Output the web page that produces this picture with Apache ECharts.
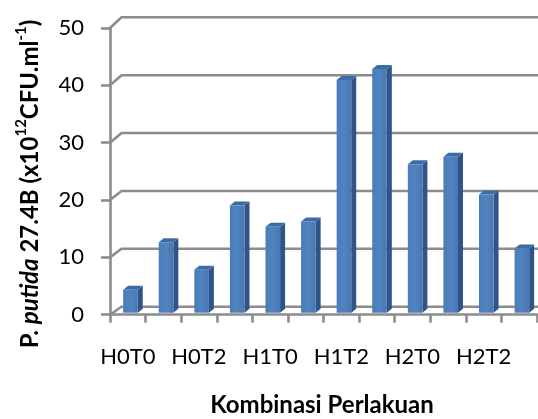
<!DOCTYPE html>
<html>
<head>
<meta charset="utf-8">
<script src="https://cdn.jsdelivr.net/npm/echarts@6/dist/echarts.min.js"></script>
<style>html,body{margin:0;padding:0;background:#fff}#c{width:538px;height:419px}</style>
</head>
<body>
<div id="c"></div>
<script>
const categories = ['H0T0','H0T1','H0T2','H0T3','H1T0','H1T1','H1T2','H1T3','H2T0','H2T1','H2T2','H2T3'];
const values = [4.0, 12.3, 7.5, 18.7, 15.0, 15.9, 40.6, 42.5, 25.9, 27.2, 20.6, 11.2];
const yTicks = [0, 10, 20, 30, 40, 50];

const FONT = 'Lato, "Open Sans", sans-serif';
const GRID_COLOR = '#8c8c8c';

const chart = echarts.init(document.getElementById('c'), null, {renderer: 'canvas'});

function wallItem(params, api) {
  const cs = params.coordSys;
  const t = api.value(1);
  const yF = api.coord([0, t])[1];
  const dy = -(8 + 2.7 * t / 50);
  const dx = 11.5;
  const x0 = cs.x, x1 = cs.x + cs.width;
  return {
    type: 'polyline',
    shape: {points: [[x0, yF], [x0 + dx, yF + dy], [x1 + dx + 5, yF + dy]]},
    style: {stroke: GRID_COLOR, lineWidth: 2.6, fill: null},
    silent: true
  };
}

function barItem(params, api) {
  const i = api.value(0), v = api.value(1);
  const base = api.coord([i, 0]);
  const top = api.coord([i, v]);
  const bw = api.size([1, 0])[0];
  const fw = bw * 0.41;
  const fx = base[0] - fw / 2 + bw * 0.075;
  const yb = base[1] - 2, yt = top[1] - 2;
  const dx = bw * 0.14, dy = -4;
  return {
    type: 'group',
    children: [
      {type: 'polygon', shape: {points: [[fx + fw, yt], [fx + fw + dx, yt + dy], [fx + fw + dx, yb + dy], [fx + fw, yb]]},
        style: {fill: '#2f5587'}},
      {type: 'polygon', shape: {points: [[fx, yt], [fx + dx, yt + dy], [fx + fw + dx, yt + dy], [fx + fw, yt]]},
        style: {fill: '#3d6ba3'}},
      {type: 'rect', shape: {x: fx, y: yt, width: fw, height: yb - yt},
        style: {fill: new echarts.graphic.LinearGradient(0, 0, 1, 0, [
          {offset: 0, color: '#4a7cb9'}, {offset: 0.5, color: '#5083c0'}, {offset: 1, color: '#4878b3'}])}}
    ]
  };
}

const option = {
  animation: false,
  backgroundColor: '#fff',
  grid: {left: 110, right: 1, top: 28, bottom: 104.3, containLabel: false},
  xAxis: {
    type: 'category',
    data: categories,
    boundaryGap: true,
    axisLine: {show: true, lineStyle: {color: GRID_COLOR, width: 2.6}},
    axisTick: {show: true, interval: 0, length: 8, lineStyle: {color: GRID_COLOR, width: 2.6}},
    axisLabel: {interval: 1, margin: 31, color: '#000', fontSize: 22, fontFamily: FONT},
    splitLine: {show: false}
  },
  yAxis: {
    type: 'value', min: 0, max: 50, interval: 10,
    axisLine: {show: true, lineStyle: {color: GRID_COLOR, width: 2.6}},
    axisTick: {show: true, length: 9, lineStyle: {color: GRID_COLOR, width: 2.6}},
    axisLabel: {margin: 26, color: '#000', fontSize: 22, fontFamily: FONT},
    splitLine: {show: false}
  },
  series: [
    {type: 'custom', renderItem: wallItem, data: yTicks.map(t => [0, t]), z: 1, silent: true, clip: false},
    {type: 'custom', renderItem: barItem, data: values.map((v, i) => [i, v]), z: 3, clip: false}
  ],
  graphic: [
    {
      type: 'text', x: 28, y: 184, rotation: Math.PI / 2, silent: true,
      style: {
        text: '{a|P. }{i|putida}{a| 27.4B (x10}{s|12}{a|CFU.ml}{s|-1}{a|)}',
        align: 'center', verticalAlign: 'middle',
        rich: {
          a: {fontSize: 24, fontWeight: 'bold', fontFamily: FONT, fill: '#000', lineHeight: 28, verticalAlign: 'bottom'},
          i: {fontSize: 24, fontWeight: 'bold', fontStyle: 'italic', fontFamily: FONT, fill: '#000', lineHeight: 28, verticalAlign: 'bottom'},
          s: {fontSize: 15, fontWeight: 'bold', fontFamily: FONT, fill: '#000', lineHeight: 17, verticalAlign: 'top'}
        }
      }
    },
    {
      type: 'text', x: 322, y: 405, silent: true,
      style: {text: 'Kombinasi Perlakuan', align: 'center', verticalAlign: 'middle',
        font: 'bold 24px ' + FONT, fill: '#000'}
    }
  ]
};
chart.setOption(option);
</script>
</body>
</html>
